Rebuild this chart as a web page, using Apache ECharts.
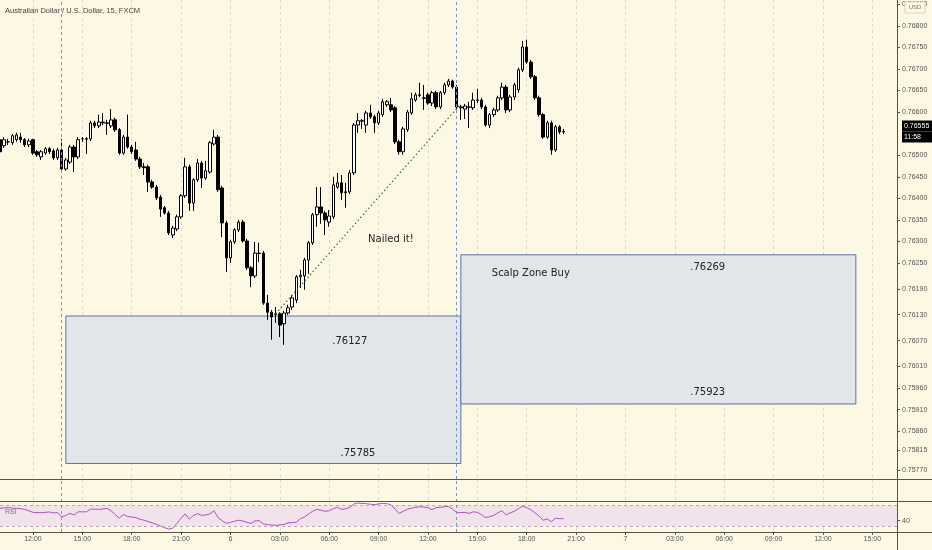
<!DOCTYPE html>
<html><head><meta charset="utf-8">
<script src="https://cdn.jsdelivr.net/npm/echarts@6/dist/echarts.min.js"></script>
<style>html,body{margin:0;padding:0;background:#fdf8e3}#c{width:932px;height:550px}</style>
</head><body><div id="c"></div>
<script>
// ---- categories: 15-minute slots starting day 5, 10:00 ----
const START_DAY = 5, START_HOUR = 10, BAR_MIN = 15, N_SLOTS = 219;
const times = [];
for (let i = 0; i < N_SLOTS; i++) {
  const m = START_HOUR * 60 + i * BAR_MIN;
  const d = START_DAY + Math.floor(m / 1440), mm = m % 1440;
  times.push(d + ' ' + String(Math.floor(mm / 60)).padStart(2, '0') + ':' + String(mm % 60).padStart(2, '0'));
}

// ---- candles [open, close, low, high] ----
const candles = [
[0.76536,0.76508,0.76503,0.76542],[0.76522,0.76536,0.76517,0.76542],[0.76531,0.76531,0.76524,0.76538],[0.76529,0.76545,0.76524,0.76549],
[0.76536,0.76547,0.76531,0.76552],[0.76542,0.76536,0.76529,0.76552],[0.76536,0.76524,0.76519,0.76540],[0.76524,0.76533,0.76519,0.76538],
[0.76536,0.76505,0.76501,0.76538],[0.76508,0.76501,0.76496,0.76512],[0.76496,0.76508,0.76489,0.76512],[0.76505,0.76515,0.76501,0.76519],
[0.76515,0.76508,0.76503,0.76519],[0.76510,0.76494,0.76489,0.76515],[0.76494,0.76512,0.76489,0.76517],[0.76512,0.76468,0.76464,0.76538],
[0.76468,0.76489,0.76464,0.76494],[0.76484,0.76519,0.76480,0.76524],[0.76519,0.76496,0.76461,0.76524],[0.76496,0.76536,0.76491,0.76542],
[0.76538,0.76538,0.76531,0.76542],[0.76538,0.76537,0.76503,0.76542],[0.76538,0.76575,0.76533,0.76580],[0.76575,0.76568,0.76563,0.76580],
[0.76568,0.76577,0.76563,0.76594],[0.76577,0.76575,0.76570,0.76598],[0.76575,0.76574,0.76547,0.76582],[0.76568,0.76582,0.76563,0.76607],
[0.76582,0.76559,0.76554,0.76587],[0.76559,0.76505,0.76501,0.76563],[0.76505,0.76542,0.76501,0.76547],[0.76542,0.76519,0.76515,0.76594],
[0.76519,0.76508,0.76503,0.76524],[0.76512,0.76491,0.76487,0.76531],[0.76491,0.76473,0.76468,0.76496],[0.76473,0.76471,0.76454,0.76482],
[0.76473,0.76438,0.76415,0.76478],[0.76438,0.76426,0.76422,0.76443],[0.76426,0.76401,0.76396,0.76431],[0.76403,0.76375,0.76357,0.76408],
[0.76378,0.76366,0.76362,0.76382],[0.76366,0.76320,0.76315,0.76371],[0.76315,0.76331,0.76308,0.76336],[0.76329,0.76357,0.76324,0.76362],
[0.76357,0.76406,0.76352,0.76410],[0.76406,0.76473,0.76401,0.76494],[0.76473,0.76389,0.76371,0.76478],[0.76389,0.76443,0.76371,0.76447],
[0.76443,0.76482,0.76438,0.76491],[0.76482,0.76447,0.76424,0.76487],[0.76447,0.76464,0.76443,0.76487],[0.76461,0.76529,0.76457,0.76533],
[0.76526,0.76542,0.76522,0.76559],[0.76542,0.76420,0.76415,0.76547],[0.76424,0.76343,0.76310,0.76429],[0.76343,0.76262,0.76229,0.76348],
[0.76262,0.76299,0.76250,0.76304],[0.76299,0.76327,0.76294,0.76331],[0.76327,0.76345,0.76322,0.76350],[0.76345,0.76301,0.76297,0.76350],
[0.76301,0.76239,0.76234,0.76306],[0.76239,0.76220,0.76194,0.76243],[0.76220,0.76273,0.76215,0.76299],[0.76273,0.76272,0.76252,0.76297],
[0.76273,0.76157,0.76153,0.76278],[0.76157,0.76136,0.76118,0.76176],[0.76136,0.76125,0.76072,0.76141],[0.76132,0.76131,0.76111,0.76148],
[0.76132,0.76106,0.76078,0.76136],[0.76109,0.76134,0.76060,0.76139],[0.76134,0.76146,0.76130,0.76153],[0.76148,0.76169,0.76141,0.76176],
[0.76164,0.76218,0.76157,0.76222],[0.76218,0.76222,0.76192,0.76234],[0.76220,0.76257,0.76188,0.76262],[0.76257,0.76297,0.76225,0.76301],
[0.76297,0.76362,0.76292,0.76366],[0.76362,0.76380,0.76334,0.76426],[0.76380,0.76366,0.76341,0.76426],[0.76366,0.76350,0.76315,0.76371],
[0.76345,0.76359,0.76334,0.76373],[0.76357,0.76431,0.76352,0.76450],[0.76426,0.76436,0.76422,0.76459],[0.76436,0.76413,0.76396,0.76454],
[0.76415,0.76413,0.76378,0.76436],[0.76415,0.76459,0.76410,0.76466],[0.76459,0.76570,0.76454,0.76575],[0.76570,0.76580,0.76552,0.76598],
[0.76580,0.76579,0.76561,0.76584],[0.76570,0.76598,0.76552,0.76603],[0.76598,0.76589,0.76584,0.76617],[0.76589,0.76575,0.76552,0.76594],
[0.76575,0.76598,0.76570,0.76603],[0.76594,0.76624,0.76589,0.76631],[0.76617,0.76624,0.76612,0.76628],[0.76617,0.76605,0.76600,0.76633],
[0.76610,0.76531,0.76526,0.76614],[0.76531,0.76508,0.76501,0.76536],[0.76508,0.76561,0.76501,0.76566],[0.76559,0.76600,0.76554,0.76605],
[0.76598,0.76631,0.76594,0.76645],[0.76628,0.76640,0.76624,0.76645],[0.76640,0.76639,0.76635,0.76668],[0.76633,0.76632,0.76605,0.76663],
[0.76640,0.76621,0.76617,0.76645],[0.76621,0.76645,0.76614,0.76649],[0.76645,0.76612,0.76607,0.76649],[0.76612,0.76645,0.76607,0.76649],
[0.76645,0.76663,0.76640,0.76668],[0.76663,0.76672,0.76658,0.76677],[0.76672,0.76658,0.76654,0.76675],[0.76658,0.76612,0.76607,0.76663],
[0.76612,0.76610,0.76582,0.76617],[0.76607,0.76614,0.76584,0.76619],[0.76612,0.76611,0.76563,0.76624],[0.76610,0.76628,0.76605,0.76645],
[0.76628,0.76627,0.76621,0.76654],[0.76628,0.76612,0.76607,0.76633],[0.76612,0.76570,0.76566,0.76617],[0.76570,0.76594,0.76563,0.76598],
[0.76594,0.76605,0.76589,0.76610],[0.76605,0.76633,0.76600,0.76638],[0.76633,0.76658,0.76628,0.76668],[0.76658,0.76605,0.76598,0.76663],
[0.76605,0.76635,0.76600,0.76640],[0.76635,0.76663,0.76628,0.76668],[0.76652,0.76698,0.76645,0.76703],[0.76698,0.76751,0.76693,0.76765],
[0.76751,0.76716,0.76712,0.76768],[0.76716,0.76682,0.76677,0.76721],[0.76682,0.76633,0.76628,0.76686],[0.76633,0.76594,0.76589,0.76638],
[0.76594,0.76542,0.76538,0.76598],[0.76542,0.76575,0.76538,0.76580],[0.76575,0.76512,0.76501,0.76580],[0.76512,0.76566,0.76508,0.76570],
[0.76566,0.76554,0.76549,0.76570],[0.76554,0.76555,0.76549,0.76561]
];

// ---- RSI(14) per bar ----
const rsi = [
63.6,64.5,65,64,63.6,63,61.7,59,56,55.5,
55.4,56,56.7,55,55.5,47,50,54,51,57,
57,57,62,62,61.7,62.5,63.5,59,52,45,
52,48,47,46,43,41,38.5,36,33,30,
27,24,26,35,45,53,43,50,53.5,50.3,
51,53,59,46,40,35,37,39,41,39.5,
37,35,40,40,34,32.5,32,31.3,32,33,
36,36.5,37,44,47,53,58,61.7,60,58,
59,63,65.5,61.7,63,65.5,72,73.8,73,72.5,
71.5,70.6,72,73,72.5,70.6,62,54,58,62,
64,65.5,66.8,66,65,61,65,65.5,66.8,67,
62,55.4,55.5,56,54,57,56,52,46,48,
50,55,59.2,51,55,58,63,68,65,61,
55.4,49,41,43.3,38.3,44.6,44,44
];

// ---- tick labels ----
const priceTicks = [0.7685,0.768,0.7675,0.767,0.7665,0.766,0.765,0.7645,0.764,0.7635,0.763,0.7625,
  0.7619,0.7613,0.7607,0.7601,0.7596,0.7591,0.7586,0.75815,0.7577];
const rsiTicks = [40];
const rsiBand = [30, 70];

// ---- annotations ----
const TITLE = 'Australian Dollar / U.S. Dollar, 15, FXCM';
const LAST_PRICE = 0.76555, COUNTDOWN = '11:58';
const sessionLines = ['5 13:45', '6 13:45'];
const zones = [ // [from, to, top, bottom]
  ['5 14:00', '6 14:00', 0.76127, 0.75785],
  ['6 14:00', '7 14:00', 0.76269, 0.75923]
];
const trendLine = [['6 02:45', 0.76132], ['6 14:00', 0.76619]];
const notes = [ // [text, time, price]
  ['Nailed it!', '6 09:45', 0.76304],
  ['.76127', '6 07:15', 0.76069],
  ['.75785', '6 07:45', 0.75809],
  ['Scalp Zone Buy', '6 18:15', 0.76227],
  ['.76269', '7 05:00', 0.76239],
  ['.75923', '7 05:00', 0.75951]
];

const FONT = 'Liberation Sans';
const isMajor = (i) => { const t = times[i].split(' ')[1]; return t.endsWith(':00') && (+t.slice(0, 2)) % 3 === 0; };
const fmtTime = (v) => { const [d, t] = v.split(' '); return t === '00:00' ? d : t; };
const frame = '#55554f';
const isLast = v => Math.abs(v - LAST_PRICE) < 1e-9;

const chart = echarts.init(document.getElementById('c'));
chart.setOption({
  animation: false,
  backgroundColor: '#fdf8e3',
  title: [
    { text: TITLE, left: 5, top: 7, padding: 0, textStyle: { fontSize: 7.5, fontWeight: 'normal', color: '#444', fontFamily: FONT } },
    { text: 'RSI', left: 5, top: 509, padding: 0, textStyle: { fontSize: 7, fontWeight: 'normal', color: '#777', fontFamily: FONT } }
  ],
  grid: [
    { left: 0, right: 35, top: 0, height: 479, containLabel: false, outerBoundsMode: 'none' },
    { left: 0, right: 35, top: 479, height: 53, containLabel: false, outerBoundsMode: 'none' }
  ],
  xAxis: [
    { type: 'category', gridIndex: 0, data: times, boundaryGap: false,
      axisLine: { show: false }, axisTick: { show: false }, axisLabel: { show: false },
      splitLine: { show: true, interval: isMajor, lineStyle: { color: '#dcd9cc', type: [3, 3], width: 1 } } },
    { type: 'category', gridIndex: 1, data: times, boundaryGap: false,
      axisLine: { show: false },
      axisTick: { show: true, interval: isMajor, length: 3, lineStyle: { color: frame } },
      axisLabel: { show: true, interval: isMajor, formatter: fmtTime, fontSize: 7, color: '#555', fontFamily: FONT, margin: 4 },
      splitLine: { show: true, interval: isMajor, lineStyle: { color: '#dcd9cc', type: [3, 3], width: 1 } } }
  ],
  yAxis: [
    { type: 'value', gridIndex: 0, position: 'right', min: 0.75749, max: 0.7686,
      axisLine: { show: false },
      axisTick: { show: true, length: 3, customValues: priceTicks, lineStyle: { color: frame } },
      axisLabel: { customValues: priceTicks.concat([LAST_PRICE]), margin: 5,
        formatter: v => isLast(v) ? '{last|' + v.toFixed(5) + '}\n{last|' + COUNTDOWN + '}' : v.toFixed(5),
        fontSize: 7, color: '#555', fontFamily: FONT,
        rich: { last: { backgroundColor: '#000', color: '#fff', fontSize: 7, fontFamily: FONT, width: 28, lineHeight: 11, height: 11, padding: [0, 0, 0, 2] } } },
      splitLine: { show: false } },
    { type: 'value', gridIndex: 1, position: 'right', min: 18.57, max: 119.52,
      axisLine: { show: false },
      axisTick: { show: true, length: 3, customValues: rsiTicks, lineStyle: { color: frame } },
      axisLabel: { customValues: rsiTicks, fontSize: 7, color: '#555', fontFamily: FONT, margin: 5 },
      splitLine: { show: false } }
  ],
  series: [
    { type: 'candlestick', xAxisIndex: 0, yAxisIndex: 0, data: candles, barWidth: 3,
      itemStyle: { color: '#ffffff', color0: '#000000', borderColor: '#000000', borderColor0: '#000000', borderWidth: 1 },
      markArea: { silent: true,
        itemStyle: { color: '#e2e6e8', borderColor: '#5b74a8', borderWidth: 1 },
        data: zones.map(z => [{ coord: [z[0], z[2]] }, { coord: [z[1], z[3]] }]) },
      markLine: { silent: true, symbol: ['none', 'none'], label: { show: false },
        data: [
          { yAxis: LAST_PRICE, lineStyle: { color: '#555', type: [1, 2], width: 1 } },
          ...sessionLines.map(t => ({ xAxis: t, lineStyle: { color: '#7d93c4', type: [3, 3], width: 1 } })),
          [{ coord: trendLine[0], lineStyle: { color: '#2f7d32', type: [1.5, 2.5], width: 1.2 } }, { coord: trendLine[1] }]
        ] },
      markPoint: { silent: true, symbol: 'circle', symbolSize: 0,
        label: { show: true, position: 'inside', formatter: p => p.name, color: '#222', fontSize: 10, fontFamily: 'DejaVu Sans' },
        data: notes.map(n => ({ name: n[0], coord: [n[1], n[2]] })) }
    },
    { type: 'line', xAxisIndex: 1, yAxisIndex: 1, data: rsi, symbol: 'none',
      lineStyle: { color: '#b150c0', width: 1 },
      markArea: { silent: true, itemStyle: { color: '#f1e2eb' }, data: [[{ yAxis: rsiBand[0] }, { yAxis: rsiBand[1] }]] },
      markLine: { silent: true, symbol: ['none', 'none'], label: { show: false },
        data: [
          ...rsiBand.map(v => ({ yAxis: v, lineStyle: { color: '#b8a8b8', type: [3, 3], width: 1 } })),
          ...sessionLines.map(t => ({ xAxis: t, lineStyle: { color: '#7d93c4', type: [3, 3], width: 1 } }))
        ] }
    }
  ],
  graphic: [
    { type: 'line', shape: { x1: 0, y1: 479.5, x2: 932, y2: 479.5 }, style: { stroke: frame, lineWidth: 1 }, z: 100 },
    { type: 'line', shape: { x1: 0, y1: 501.5, x2: 932, y2: 501.5 }, style: { stroke: frame, lineWidth: 1 }, z: 100 },
    { type: 'line', shape: { x1: 0, y1: 532.5, x2: 932, y2: 532.5 }, style: { stroke: frame, lineWidth: 1 }, z: 100 },
    { type: 'line', shape: { x1: 897.5, y1: 0, x2: 897.5, y2: 550 }, style: { stroke: frame, lineWidth: 1 }, z: 100 },
    { type: 'rect', shape: { x: 905, y: 2, width: 20, height: 11 }, style: { fill: '#fdf8e3', stroke: '#d8d4c4', lineWidth: 1 }, z: 100 },
    { type: 'text', x: 915, y: 7.5, style: { text: 'USD', fill: '#777', fontSize: 6, fontFamily: FONT, align: 'center', verticalAlign: 'middle' }, z: 101 }
  ]
});
</script></body></html>
